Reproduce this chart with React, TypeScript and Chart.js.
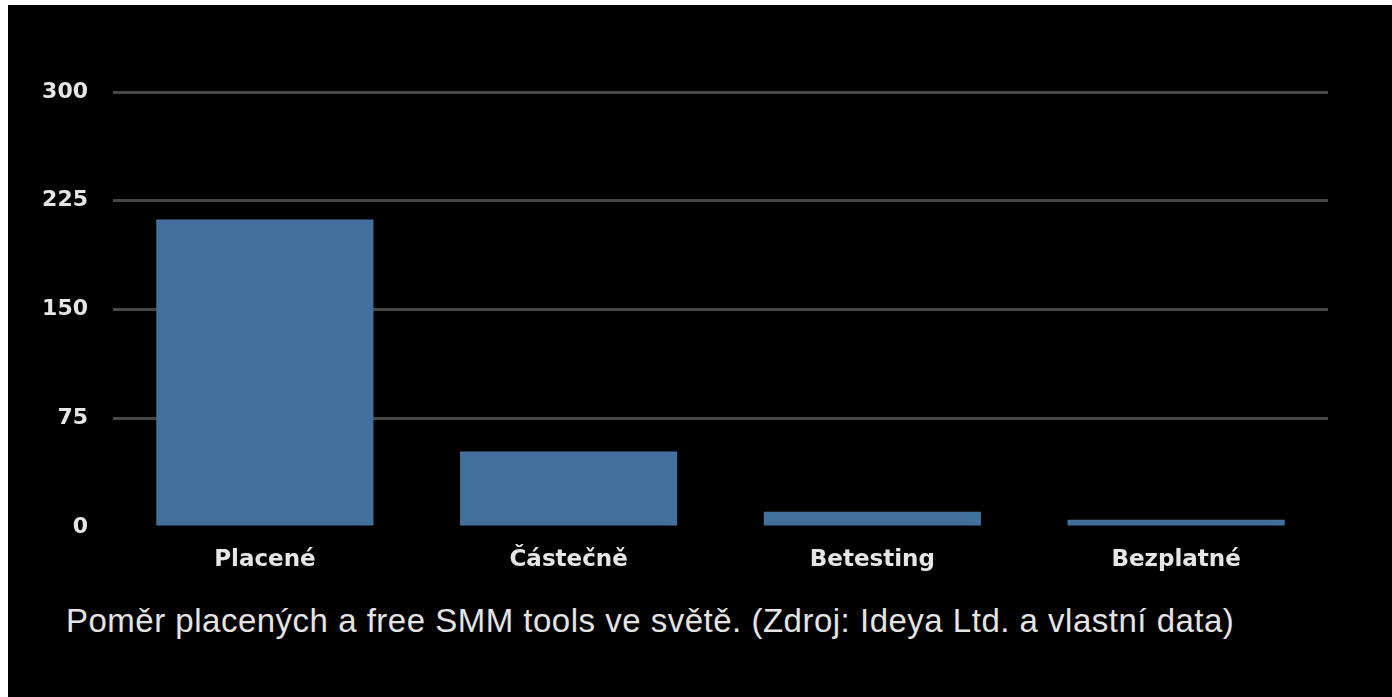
import React, { useEffect, useRef } from "react";
import { Chart, registerables } from "chart.js";

Chart.register(...registerables);

const categories = ["Placené", "Částečně", "Betesting", "Bezplatné"];
const values = [212, 52, 10.5, 5];
const yTicks = [0, 75, 150, 225, 300];
const caption = "Poměr placených a free SMM tools ve světě. (Zdroj: Ideya Ltd. a vlastní data)";

export default function App() {
  const ref = useRef<HTMLCanvasElement | null>(null);
  useEffect(() => {
    if (!ref.current) return;
    const chart = new Chart(ref.current, {
      type: "bar",
      data: {
        labels: categories,
        datasets: [
          {
            data: values,
            backgroundColor: "#42719b",
            borderWidth: 0,
            categoryPercentage: 1,
            barPercentage: 0.715,
          },
        ],
      },
      options: {
        animation: false,
        responsive: false,
        layout: { padding: { top: 87, right: 64, left: 0, bottom: 8 } },
        plugins: { legend: { display: false }, tooltip: { enabled: false } },
        scales: {
          x: {
            grid: { display: false, drawTicks: false },
            border: { display: false },
            ticks: {
              color: "#e6e6e6",
              padding: 19,
              font: { family: "DejaVu Sans", weight: "bold", size: 23 },
            },
            afterFit: (s: any) => {
              s.height = 50;
            },
          },
          y: {
            min: 0,
            max: 300,
            afterBuildTicks: (s: any) => {
              s.ticks = yTicks.map((v) => ({ value: v }));
            },
            grid: {
              drawTicks: false,
              lineWidth: 3,
              color: (c: any) => (c.tick && c.tick.value === 0 ? "rgba(0,0,0,0)" : "#474747"),
            },
            border: { display: false },
            ticks: {
              color: "#e6e6e6",
              padding: 25,
              font: { family: "DejaVu Sans", weight: "bold", size: 22 },
            },
            afterFit: (s: any) => {
              s.width = 105;
            },
          },
        },
      },
    });
    return () => chart.destroy();
  }, []);
  return (
    <div
      style={{
        position: "fixed",
        left: 8,
        top: 5,
        width: 1384,
        height: 692,
        background: "#000",
        overflow: "hidden",
      }}
    >
      <canvas ref={ref} width={1384} height={580} style={{ position: "absolute", left: 0, top: 0 }} />
      <div
        style={{
          position: "absolute",
          left: 58,
          top: 598,
          fontFamily: "'Liberation Sans', Arial, sans-serif",
          fontSize: 33,
          lineHeight: "36px",
          color: "#e4e4e4",
          whiteSpace: "nowrap",
          letterSpacing: "0.5px",
        }}
      >
        {caption}
      </div>
    </div>
  );
}
